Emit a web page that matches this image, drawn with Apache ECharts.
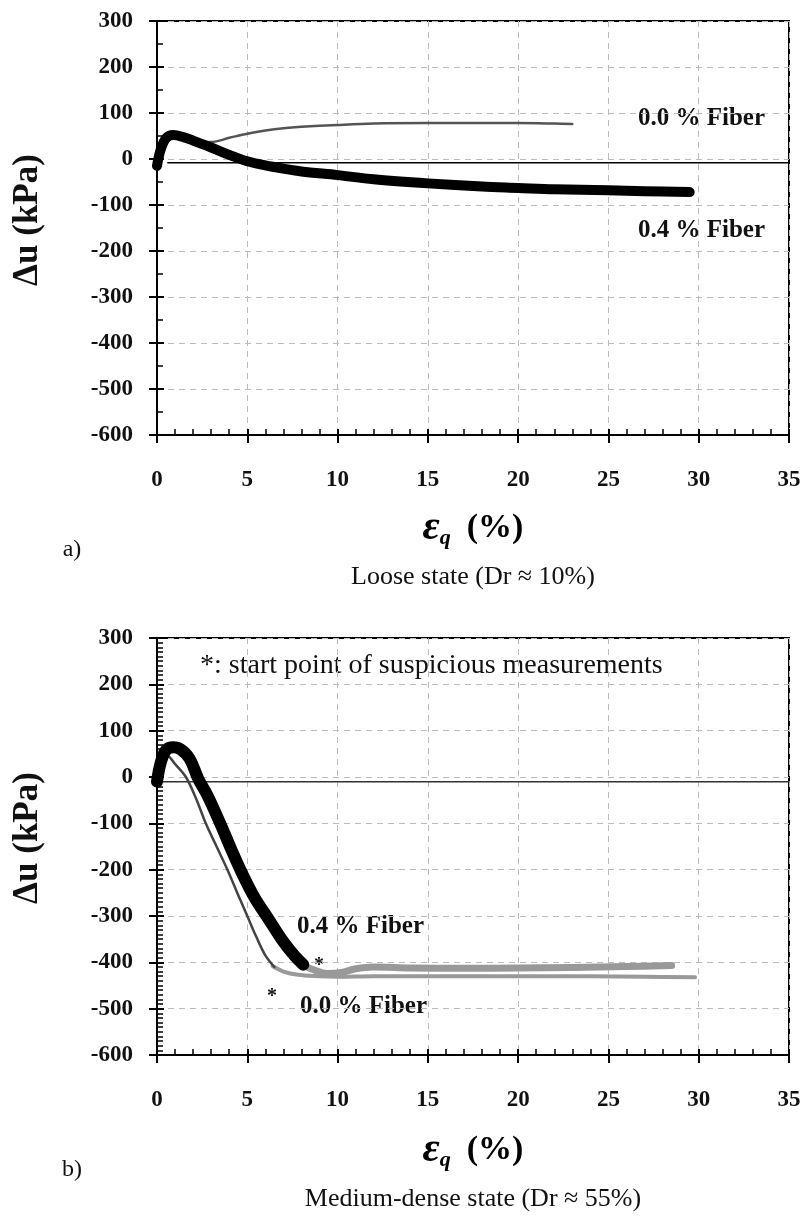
<!DOCTYPE html>
<html>
<head>
<meta charset="utf-8">
<script src="https://cdn.jsdelivr.net/npm/echarts@6/dist/echarts.min.js"></script>
<style>
  html, body { margin: 0; padding: 0; background: #fff; }
  #chart { width: 806px; height: 1216px; }
</style>
</head>
<body>
<div id="chart"></div>
<script>
// x ticks (strain %) and y ticks (kPa)
var xTicks = [0, 5, 10, 15, 20, 25, 30, 35];
var yTicks = [300, 200, 100, 0, -100, -200, -300, -400, -500, -600];

// a) loose state
var looseFiber00 = [[0, -15], [0.3, 30], [0.7, 48], [1.2, 45], [2, 40], [3, 37], [4, 46], [5, 55], [6, 62],
    [7, 67], [8, 70], [10, 74], [12, 77], [15, 78], [18, 78], [20, 78], [22, 77], [23, 76]];
var looseFiber04 = [[0, -15], [0.2, 20], [0.5, 45], [0.9, 52], [1.5, 47], [2, 40], [3, 25], [4, 9], [5, -5],
    [6, -14], [7, -21], [8, -27], [10, -35], [12, -44], [15, -53], [18, -60], [20, -63], [22, -66],
    [25, -68], [27, -70], [29.5, -72]];
var looseZero = [[0.6, -8], [35, -8]];

// b) medium-dense state
var denseFiber04 = [[0, -10], [0.2, 30], [0.5, 58], [0.9, 64], [1.3, 60], [1.8, 40], [2.3, -5], [2.8, -40],
    [3.5, -100], [4.1, -155], [4.7, -207], [5.4, -260], [6.2, -308], [6.9, -350], [7.6, -385], [8.1, -405]];
var denseFiber04Susp = [[8.0, -405], [8.6, -415], [9.4, -424], [10.2, -422], [11, -414], [12, -410], [14, -412],
    [17, -413], [20, -412], [23, -411], [26, -409], [28.5, -407]];
var denseFiber00 = [[0, -5], [0.3, 30], [0.6, 45], [1, 28], [1.6, 0], [2.2, -50], [2.7, -100], [3.3, -150],
    [3.9, -200], [4.5, -255], [5, -300], [5.5, -345], [6, -385], [6.5, -410]];
var denseFiber00Susp = [[6.4, -408], [7, -420], [7.8, -427], [9, -430], [10, -431], [12, -430], [15, -430],
    [18, -430], [21, -430], [24, -430], [27, -431], [29.8, -432]];
var denseZero = [[0, -10], [35, -10]];

var serif = 'Liberation Serif';
var chart = echarts.init(document.getElementById('chart'));

function xAxisPair(gridIndex) {
    var base = {
        gridIndex: gridIndex, type: 'value', position: 'bottom', offset: 0,
        min: xTicks[0], max: xTicks[xTicks.length - 1], interval: 5,
        axisLine: { show: true, onZero: false, lineStyle: { color: '#000', width: 2 } }
    };
    return [
        Object.assign({}, base, {
            axisTick: { show: true, inside: true, length: 6, lineStyle: { color: '#000', width: 2 } },
            minorTick: { show: true, splitNumber: 5, length: 6, lineStyle: { color: '#000', width: 1.5 } },
            axisLabel: { show: true, margin: 34, color: '#111', fontFamily: serif, fontWeight: 'bold', fontSize: 23 },
            splitLine: { show: true, lineStyle: { color: '#bbb', type: [6, 5], width: 1 } }
        }),
        Object.assign({}, base, {
            axisTick: { show: true, inside: false, length: 8, lineStyle: { color: '#000', width: 2 } },
            axisLabel: { show: false }, splitLine: { show: false }
        })
    ];
}

function yAxisPair(gridIndex, minorSplit) {
    var base = {
        gridIndex: gridIndex, type: 'value', position: 'left', offset: 0,
        min: yTicks[yTicks.length - 1], max: yTicks[0], interval: 100,
        axisLine: { show: true, onZero: false, lineStyle: { color: '#000', width: 2 } }
    };
    return [
        Object.assign({}, base, {
            axisTick: { show: true, inside: true, length: 7, lineStyle: { color: '#000', width: 2 } },
            minorTick: { show: true, splitNumber: minorSplit, length: 6, lineStyle: { color: '#000', width: 1.5 } },
            axisLabel: { show: true, margin: 24, color: '#111', fontFamily: serif, fontWeight: 'bold', fontSize: 23 },
            splitLine: { show: true, lineStyle: { color: '#bbb', type: [6, 5], width: 1 } }
        }),
        Object.assign({}, base, {
            axisTick: { show: true, inside: false, length: 8, lineStyle: { color: '#000', width: 2 } },
            axisLabel: { show: false }, splitLine: { show: false }
        })
    ];
}

function line(xi, yi, data, color, width, z) {
    return {
        type: 'line', xAxisIndex: xi, yAxisIndex: yi, data: data, showSymbol: false, smooth: 0.35,
        lineStyle: { color: color, width: width, cap: 'round', join: 'round' }, z: z, silent: true
    };
}

var axisNameRich = {
    eps: { fontFamily: serif, fontStyle: 'italic', fontWeight: 'bold', fontSize: 42, color: '#111' },
    q: { fontFamily: serif, fontStyle: 'italic', fontWeight: 'bold', fontSize: 22, color: '#111', padding: [20, 0, 0, 0] },
    pc: { fontFamily: serif, fontWeight: 'bold', fontSize: 34, color: '#111', padding: [0, 0, 0, 16] }
};

function txt(left, top, text, size, weight) {
    return {
        type: 'text', left: left, top: top,
        style: { text: text, fontFamily: serif, fontSize: size, fontWeight: weight, fill: '#111' }
    };
}

function centered(x, y, text, size, weight, rotation) {
    return {
        type: 'text', x: x, y: y, rotation: rotation || 0,
        style: { text: text, fontFamily: serif, fontSize: size, fontWeight: weight, fill: '#111', align: 'center', verticalAlign: 'middle' }
    };
}

var option = {
    backgroundColor: '#fff',
    animation: false,
    grid: [
        { left: 157, top: 21, width: 632, height: 414, show: true, borderColor: '#000', borderWidth: 2 },
        { left: 157, top: 638, width: 632, height: 417, show: true, borderColor: '#000', borderWidth: 2 }
    ],
    xAxis: xAxisPair(0).concat(xAxisPair(1)),
    yAxis: yAxisPair(0, 2).concat(yAxisPair(1, 10)),
    series: [
        line(0, 0, looseZero, '#000', 1.5, 2),
        line(0, 0, looseFiber00, '#555', 2.5, 3),
        line(0, 0, looseFiber04, '#000', 10, 4),
        line(2, 2, denseZero, '#333', 1.5, 2),
        line(2, 2, denseFiber00Susp, '#999', 4, 3),
        line(2, 2, denseFiber04Susp, '#999', 7, 3),
        line(2, 2, denseFiber00, '#444', 2.5, 4),
        line(2, 2, denseFiber04, '#000', 12, 5)
    ],
    graphic: [
        // y axis names
        centered(28, 220, 'Δu (kPa)', 35, 'bold', Math.PI / 2),
        centered(28, 838, 'Δu (kPa)', 35, 'bold', Math.PI / 2),
        // x axis names
        { type: 'text', x: 473, y: 528, style: { text: '{eps|ε}{q|q}{pc|(%)}', rich: axisNameRich, align: 'center', verticalAlign: 'middle' } },
        { type: 'text', x: 473, y: 1150, style: { text: '{eps|ε}{q|q}{pc|(%)}', rich: axisNameRich, align: 'center', verticalAlign: 'middle' } },
        // captions
        centered(473, 577, 'Loose state (Dr ≈ 10%)', 26, 'normal'),
        centered(473, 1199, 'Medium-dense state (Dr ≈ 55%)', 26, 'normal'),
        centered(72, 550, 'a)', 24, 'normal'),
        centered(72, 1170, 'b)', 24, 'normal'),
        // annotations
        txt(638, 106, '0.0 % Fiber', 25, 'bold'),
        txt(638, 218, '0.4 % Fiber', 25, 'bold'),
        txt(200, 652, '*: start point of suspicious measurements', 28, 'normal'),
        txt(297, 914, '0.4 % Fiber', 25, 'bold'),
        txt(300, 994, '0.0 % Fiber', 25, 'bold'),
        txt(267, 987, '*', 20, 'bold'),
        txt(314, 956, '*', 20, 'bold')
    ]
};
chart.setOption(option);
</script>
</body>
</html>
